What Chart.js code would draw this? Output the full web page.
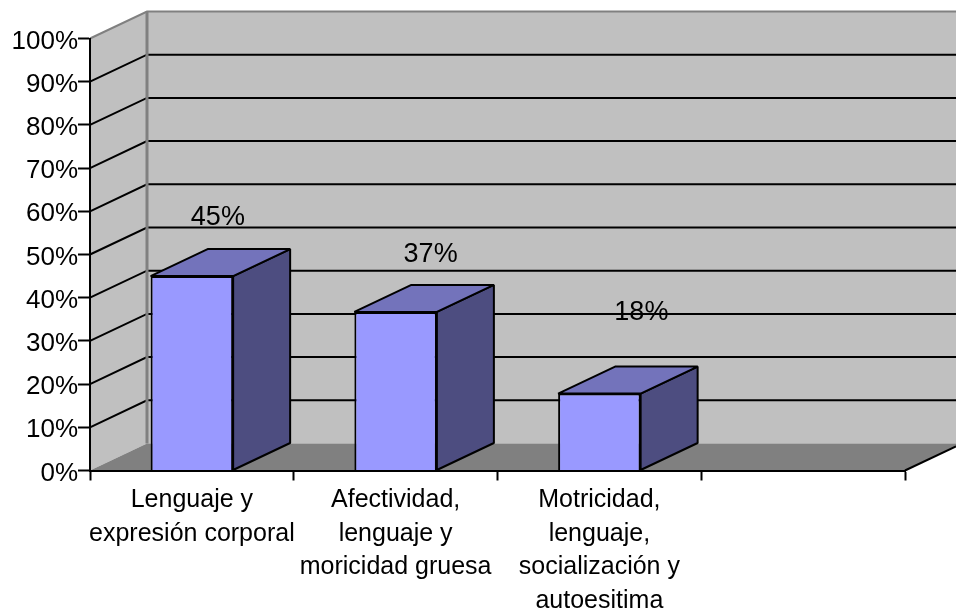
<!DOCTYPE html>
<html><head><meta charset="utf-8">
<style>html,body{margin:0;padding:0;background:#fff}canvas{display:block}</style>
<script src="https://cdn.jsdelivr.net/npm/chart.js@4"></script>
</head><body><canvas id="c" width="956" height="612"></canvas>
<script>
const categories = [['Lenguaje y','expresión corporal'],['Afectividad,','lenguaje y','moricidad gruesa'],['Motricidad,','lenguaje,','socialización y','autoesitima'],''];
const values = [45, 36.7, 17.8, null];
const dataLabels = ['45%','37%','18%'];
const labelShift = [[26,-59],[35,-57],[42,-81]];
const yTicks = [0,10,20,30,40,50,60,70,80,90,100];
const DX = 57, DY = -27;
const FONT = '"Liberation Sans", Arial, sans-serif';

function poly(ctx, pts, fill, stroke, lw){
  ctx.beginPath();
  pts.forEach((p,i)=> i ? ctx.lineTo(p[0],p[1]) : ctx.moveTo(p[0],p[1]));
  ctx.closePath();
  if(fill){ctx.fillStyle=fill;ctx.fill();}
  if(stroke){ctx.strokeStyle=stroke;ctx.lineWidth=lw;ctx.lineJoin='bevel';ctx.stroke();}
}
const scene = {
  id:'scene',
  beforeDraw(chart){
    const {ctx,chartArea:a,scales:{y}} = chart;
    const W = chart.width;
    ctx.save();
    poly(ctx,[[a.left+DX,a.top+DY],[W,a.top+DY],[W,a.bottom+DY],[a.left+DX,a.bottom+DY]],'#C0C0C0');
    poly(ctx,[[a.left,a.top],[a.left+DX,a.top+DY],[a.left+DX,a.bottom+DY],[a.left,a.bottom]],'#C0C0C0');
    poly(ctx,[[a.left,a.bottom],[a.left+DX,a.bottom+DY],[a.right+DX,a.bottom+DY],[a.right,a.bottom]],'#808080');
    ctx.strokeStyle='#000';ctx.lineWidth=2;
    yTicks.forEach(t=>{
      if(t===0||t===100) return;
      const py=y.getPixelForValue(t);
      ctx.beginPath();ctx.moveTo(a.left,py);ctx.lineTo(a.left+DX,py+DY);ctx.lineTo(W,py+DY);ctx.stroke();
    });
    ctx.beginPath();ctx.moveTo(a.right,a.bottom);ctx.lineTo(W,a.bottom+DY*(W-a.right)/DX);ctx.stroke();
    ctx.strokeStyle='#808080';ctx.lineWidth=2;
    ctx.beginPath();
    ctx.moveTo(a.left,a.top);ctx.lineTo(a.left+DX,a.top+DY);ctx.lineTo(W,a.top+DY);
    ctx.stroke();
    ctx.lineWidth=3;
    ctx.beginPath();
    ctx.moveTo(a.left+DX,a.top+DY);ctx.lineTo(a.left+DX,a.bottom+DY);
    ctx.stroke();
    ctx.restore();
  },
  beforeDatasetsDraw(chart){
    const {ctx} = chart;
    ctx.save();
    chart.getDatasetMeta(0).data.forEach((el,i)=>{
      if(values[i]==null) return;
      const p=el.getProps(['x','y','base','width'],true);
      const l=p.x-p.width/2,r=p.x+p.width/2;
      poly(ctx,[[r,p.y],[r+DX,p.y+DY],[r+DX,p.base+DY],[r,p.base]],'#4D4D80','#000',2);
      poly(ctx,[[l,p.y],[l+DX,p.y+DY],[r+DX,p.y+DY],[r,p.y]],'#7373BB','#000',2);
    });
    ctx.restore();
  },
  afterDatasetsDraw(chart){
    const {ctx} = chart;
    ctx.save();
    ctx.fillStyle='#000';ctx.font='27px '+FONT;ctx.textAlign='center';ctx.textBaseline='middle';
    chart.getDatasetMeta(0).data.forEach((el,i)=>{
      if(!dataLabels[i]) return;
      const p=el.getProps(['x','y'],true);
      ctx.fillText(dataLabels[i],p.x+labelShift[i][0],p.y+labelShift[i][1]);
    });
    ctx.restore();
  }
};
new Chart(document.getElementById('c'),{
  type:'bar',
  data:{labels:categories,datasets:[{data:values,backgroundColor:'#9999FF',borderColor:'#000',borderWidth:2,barPercentage:0.405,categoryPercentage:1}]},
  options:{
    responsive:false,animation:false,devicePixelRatio:1,
    layout:{padding:{top:38.5,right:51,bottom:0,left:0}},
    plugins:{legend:{display:false},title:{display:false},tooltip:{enabled:false}},
    scales:{
      x:{
        afterFit(s){s.height=141.5;},
        grid:{drawOnChartArea:false,drawTicks:true,tickLength:10,tickColor:'#000',tickWidth:2,offset:true},
        border:{color:'#000',width:2},
        ticks:{color:'#000',font:{family:FONT,size:25,lineHeight:1.34},maxRotation:0,minRotation:0,autoSkip:false,padding:3},
      },
      y:{
        min:0,max:100,
        afterFit(s){s.width=90;},
        afterBuildTicks(s){s.ticks=yTicks.map(v=>({value:v}));},
        grid:{drawOnChartArea:false,drawTicks:true,tickLength:12,tickColor:'#000',tickWidth:2},
        border:{color:'#000',width:2},
        ticks:{color:'#000',font:{family:FONT,size:26},padding:0,labelOffset:3,callback:v=>v+'%'}
      }
    }
  },
  plugins:[scene]
});
</script></body></html>
